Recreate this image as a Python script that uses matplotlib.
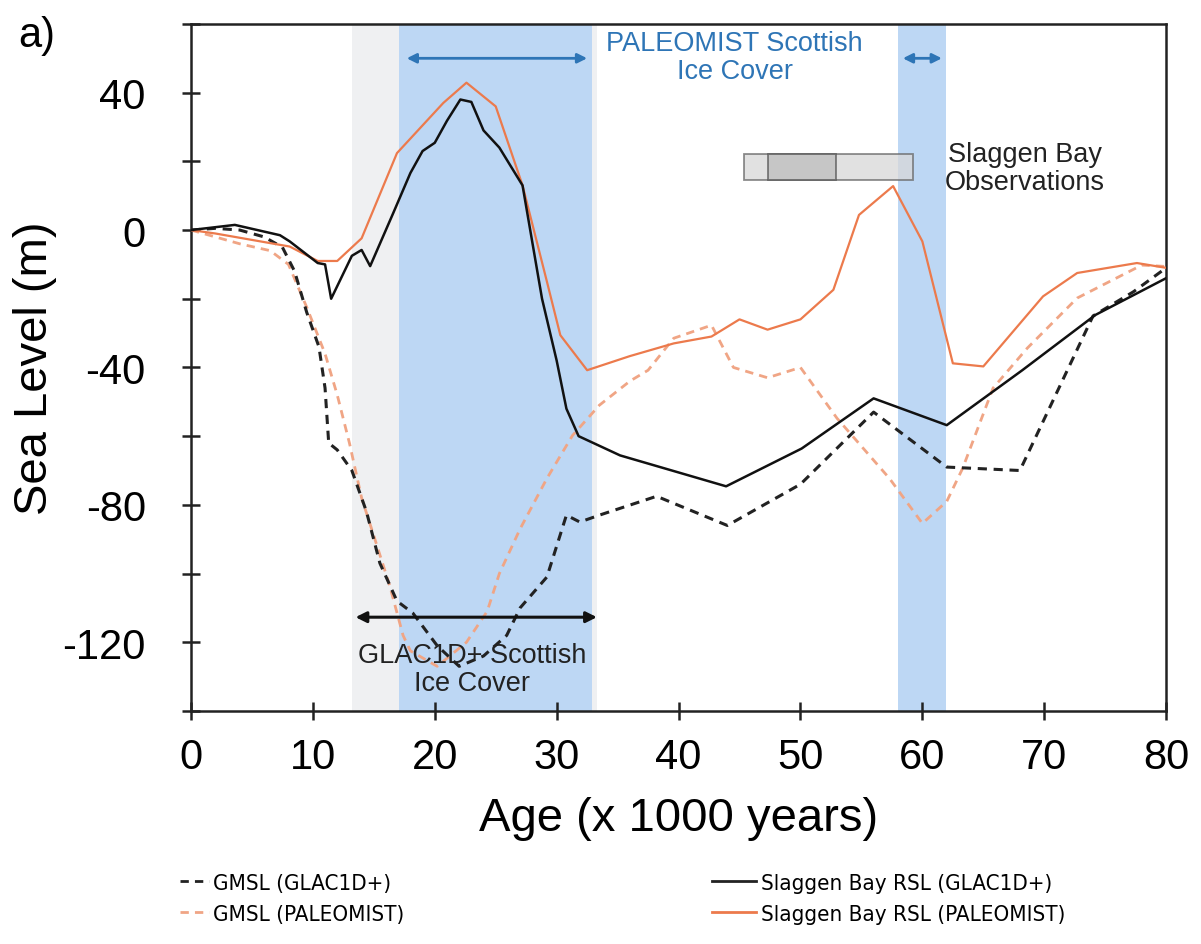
import matplotlib
matplotlib.use('Agg')
import matplotlib.pyplot as plt
from matplotlib import font_manager
from matplotlib.font_manager import FontProperties
from matplotlib.lines import Line2D
from matplotlib.patches import Rectangle

plt.rcParams['font.family'] = ['Liberation Sans', 'DejaVu Sans']
plt.rcParams['axes.unicode_minus'] = False

# the legend in the original uses a narrow face; take one if there is one
legendFile = None
for f in font_manager.fontManager.ttflist:
	low = f.fname.lower()
	if ('narrow' in low or 'condensed' in low) and 'bold' not in low and 'italic' not in low and 'oblique' not in low:
		if legendFile is None or 'liberation' in low:
			legendFile = f.fname
if legendFile:
	legendProp = FontProperties(fname=legendFile, size=16)
else:
	legendProp = FontProperties(family='Liberation Sans', size=15)

# GMSL (GLAC1D+), black dashed
gmslGlacAge = [0, 2, 4, 6, 7.5, 8.5, 9.5, 10.5, 11, 11.3, 12, 13.2, 14.4, 15.5, 16.9, 18.2, 20.2, 22, 24, 25.9,
               27, 29.2, 30.8, 31.9, 33.5, 38.2, 44, 50, 56, 62, 68, 74, 77.3, 80]
gmslGlacVal = [0, 0.5, 0, -2, -5, -12, -24, -34, -46, -62, -64, -70, -82, -97, -108, -111.5, -121, -127, -124, -118,
               -110, -101, -83, -85, -83, -77.5, -86, -74, -53, -69, -70, -25, -18, -11]

# GMSL (PALEOMIST), orange dashed
gmslPaleoAge = [0, 2, 4, 6.5, 8, 9.5, 11, 12, 13, 14, 15, 16.3, 17.4, 18, 20.2, 22.6, 24.3, 25.3, 27, 29.2, 31.3,
                33.5, 36, 37.5, 39.6, 42.7, 44.5, 47.3, 50, 53, 57.3, 60, 62, 63.3, 65.8, 68.6, 72.7, 78, 80]
gmslPaleoVal = [0, -2, -4, -6, -10, -22.5, -36, -48, -62, -78, -89, -103.5, -118, -122.5, -127, -120, -111, -100,
                -87, -72.3, -59.8, -51, -44, -40.8, -31.5, -27.7, -40, -43, -40, -54.8, -72.3, -85.4, -79, -69.4,
                -46, -34.4, -19.8, -10.2, -10.6]

# Slaggen Bay RSL (GLAC1D+), black solid
rslGlacAge = [0, 3.6, 7.3, 8.1, 10.4, 11, 11.5, 13.2, 14, 14.7, 16.6, 18, 19, 20, 21, 22.1, 23, 24, 25.3, 27.2,
              28.8, 30, 30.8, 31.8, 35.2, 43.9, 50.1, 56, 62, 68.2, 74.2, 80]
rslGlacVal = [0, 1.5, -1.5, -3.3, -9.6, -10, -20, -7.5, -5.8, -10.5, 5, 16.6, 23, 25.4, 31.8, 38, 37.3, 29, 24, 13,
              -20, -38, -52, -60, -65.6, -74.6, -63.6, -49, -56.8, -40.8, -24.7, -14]

# Slaggen Bay RSL (PALEOMIST), orange solid
rslPaleoAge = [0, 2, 8.1, 10.4, 12, 14, 16.9, 18.8, 20.7, 22.6, 25, 27.2, 29.2, 30.3, 32.5, 36, 39.6, 42.7, 45,
               47.3, 50, 52.7, 54.8, 57.6, 60, 62.5, 65, 69.9, 72.7, 77.6, 80]
rslPaleoVal = [0, -1, -4.8, -9, -9, -2.4, 22.4, 29.7, 37, 42.9, 36, 13, -15, -30.6, -40.8, -36.7, -33, -31, -26,
               -29, -26, -17.4, 4.4, 12.8, -3.3, -38.8, -39.7, -19.3, -12.5, -9.6, -11]

# ice cover periods and observation window (ka)
glacIce = (13.2, 33.3)
paleoIce = [(17.1, 32.9), (58.0, 61.9)]
obsOuter = (45.4, 59.2)
obsInner = (47.3, 52.9)
obsLevel = (14.5, 22)

blue = '#bdd7f4'
textBlue = '#2e75b6'
orange = '#ec7a4c'
orangeDash = '#f0a585'

fig = plt.figure(figsize=(12.01, 9.45), dpi=100)
ax = fig.add_axes([0.159, 0.2466, 0.812, 0.727])

ax.axvspan(*glacIce, color='#eff0f2', zorder=0, lw=0)
for a, b in paleoIce:
	ax.axvspan(a, b, color=blue, zorder=1, lw=0)

ax.plot(gmslPaleoAge, gmslPaleoVal, color=orangeDash, lw=2, dashes=(3, 2.2), zorder=3)
ax.plot(gmslGlacAge, gmslGlacVal, color='#222222', lw=2.2, dashes=(3, 2.2), zorder=4)
ax.plot(rslPaleoAge, rslPaleoVal, color=orange, lw=1.6, zorder=5)
ax.plot(rslGlacAge, rslGlacVal, color='#111111', lw=1.8, zorder=6)

# observation boxes
ax.add_patch(Rectangle((obsOuter[0], obsLevel[0]), obsOuter[1] - obsOuter[0], obsLevel[1] - obsLevel[0],
                       facecolor='#d8d8d8', edgecolor='#666666', lw=1.3, alpha=0.75, zorder=7))
ax.add_patch(Rectangle((obsInner[0], obsLevel[0]), obsInner[1] - obsInner[0], obsLevel[1] - obsLevel[0],
                       facecolor='#bdbdbd', edgecolor='#555555', lw=1.3, alpha=0.75, zorder=8))

# arrows
arrowBlue = dict(arrowstyle='<|-|>', color=textBlue, lw=2, mutation_scale=14, shrinkA=0, shrinkB=0)
ax.annotate('', xy=(17.7, 50), xytext=(32.5, 50), arrowprops=arrowBlue, zorder=9)
ax.annotate('', xy=(58.4, 50), xytext=(61.6, 50), arrowprops=arrowBlue, zorder=9)
ax.annotate('', xy=(13.5, -112.7), xytext=(33.3, -112.7),
            arrowprops=dict(arrowstyle='<|-|>', color='#111111', lw=2.2, mutation_scale=16, shrinkA=0, shrinkB=0),
            zorder=9)

ax.text(44.6, 50.5, 'PALEOMIST Scottish\nIce Cover', color=textBlue, fontsize=19.5, ha='center', va='center',
        linespacing=1.1, zorder=10)
ax.text(23.05, -127.7, 'GLAC1D+ Scottish\nIce Cover', color='#222222', fontsize=19.5, ha='center', va='center',
        linespacing=1.1, zorder=10)
ax.text(68.4, 18, 'Slaggen Bay\nObservations', color='#222222', fontsize=19.5, ha='center', va='center',
        linespacing=1.1, zorder=10)

ax.set_xlim(0, 80)
ax.set_ylim(-140, 60)
ax.set_xticks(range(0, 81, 10))
ax.set_yticks([-120, -80, -40, 0, 40])
ax.set_yticks([-140, -100, -60, -20, 20, 60], minor=True)
ax.tick_params(axis='both', which='both', direction='inout', length=13, width=1.8, color='#222222',
               labelsize=30, top=False, right=False)
ax.tick_params(axis='x', pad=12)
ax.tick_params(axis='y', pad=26)
for s in ax.spines.values():
	s.set_linewidth(1.8)
	s.set_color('#222222')

ax.set_xlabel('Age (x 1000 years)', fontsize=34, labelpad=14)
ax.set_ylabel('Sea Level (m)', fontsize=34, labelpad=4)
fig.text(0.015, 0.962, 'a)', fontsize=30, va='center')

# legend in two separate blocks like the original
left = [Line2D([], [], color='#222222', lw=2, dashes=(3, 2.2)),
        Line2D([], [], color=orangeDash, lw=2, dashes=(3, 2.2))]
right = [Line2D([], [], color='#222222', lw=2), Line2D([], [], color=orange, lw=2)]
legProps = dict(frameon=False, prop=legendProp, handletextpad=0.2,
                labelspacing=0.5, borderaxespad=0, borderpad=0)
fig.legend(left, ['GMSL (GLAC1D+)', 'GMSL (PALEOMIST)'], loc='upper left', handlelength=1.3,
           bbox_to_anchor=(180 / 1201, 1 - 874 / 945), **legProps)
fig.legend(right, ['Slaggen Bay RSL (GLAC1D+)', 'Slaggen Bay RSL (PALEOMIST)'], loc='upper left',
           handlelength=2.0, bbox_to_anchor=(712 / 1201, 1 - 874 / 945), **legProps)

fig.savefig('out.png', dpi=100)
